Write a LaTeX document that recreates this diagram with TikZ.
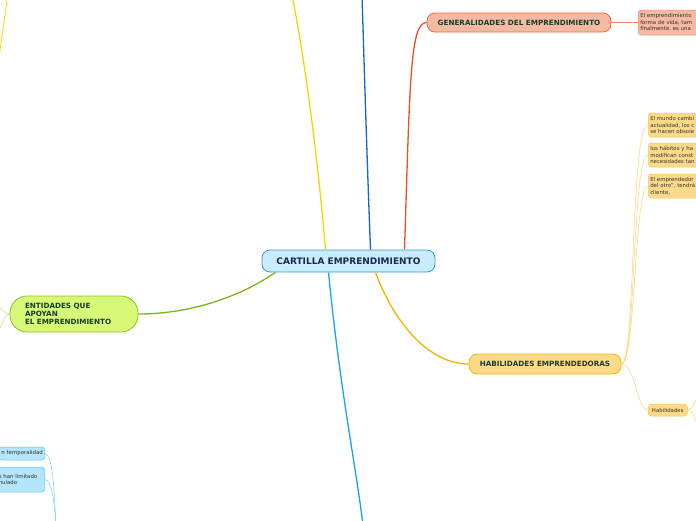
\documentclass[tikz,border=0pt]{standalone}
\usepackage{fontspec}
\setmainfont{DejaVu Sans}
\usetikzlibrary{positioning}
\definecolor{cenfill}{HTML}{C8ECFB}
\definecolor{cendraw}{HTML}{3399CC}
\definecolor{genfill}{HTML}{F8B9A3}
\definecolor{gendraw}{HTML}{EE6A44}
\definecolor{gensub}{HTML}{F08A6A}
\definecolor{habfill}{HTML}{FDD98A}
\definecolor{habdraw}{HTML}{F7B500}
\definecolor{habsubdraw}{HTML}{F9C84A}
\definecolor{habsubline}{HTML}{FAD26E}
\definecolor{entfill}{HTML}{D8F878}
\definecolor{entdraw}{HTML}{8DC21F}
\definecolor{entsub}{HTML}{BEE178}
\definecolor{bluefill}{HTML}{B3E5FC}
\definecolor{bluedraw}{HTML}{5AC8F5}
\definecolor{bluesub}{HTML}{78CDF5}
\definecolor{headtxt}{HTML}{163D2C}
\definecolor{centxt}{HTML}{1A2A4A}
\definecolor{smalltxt}{HTML}{333333}
\definecolor{lyellow}{HTML}{EED900}
\definecolor{lblue}{HTML}{1565D0}
\definecolor{lred}{HTML}{E8502A}
\definecolor{lorange}{HTML}{F5B400}
\definecolor{lgreen}{HTML}{7DB51A}
\definecolor{lcyan}{HTML}{12A8E8}
\tikzset{
  topic/.style={rounded corners=8pt, line width=0.8pt, font=\fontsize{7.2}{8.3}\selectfont\bfseries, inner sep=2pt, align=center},
  smallbox/.style={rounded corners=3pt, line width=0.5pt, font=\fontsize{5.4}{6.5}\selectfont, text=smalltxt, align=left, inner sep=2pt, anchor=west},
  mainline/.style={line width=1.3pt},
  subline/.style={line width=0.5pt}
}
\begin{document}
\begin{tikzpicture}[x=1pt,y=-1pt]
\useasboundingbox (0,0) rectangle (696,520);
\clip (0,0) rectangle (696,520);
% coordinates for off-canvas ends
\coordinate (yTop) at (292,-5);
\coordinate (bTop) at (362,-5);
\coordinate (cBot) at (363,525);
\coordinate (yLeftA) at (7.5,-3);
\coordinate (yLeftB) at (-1,58);
\coordinate (eA) at (-3,306);
\coordinate (eB) at (-3,334);
\coordinate (bA) at (56,525);
\coordinate (hA) at (700,394);
\coordinate (hB) at (700,428);

% nodes
\node[topic, fill=cenfill, draw=cendraw, text=centxt, minimum width=173pt, minimum height=22pt, font=\fontsize{9}{10}\selectfont\bfseries] (central) at (348.5,261) {CARTILLA EMPRENDIMIENTO};
\node[topic, fill=genfill, draw=gendraw, text=headtxt, minimum width=184pt, minimum height=19pt] (gen) at (519,22.5) {GENERALIDADES DEL EMPRENDIMIENTO};
\node[smallbox, fill=genfill, draw=gensub, text width=80pt, minimum height=25pt] (genTxt) at (638,22.5) {El emprendimiento\\forma de vida, tam\\finalmente, es una};
\node[topic, fill=habfill, draw=habdraw, text=headtxt, minimum width=152pt, minimum height=20pt] (hab) at (545,364) {HABILIDADES EMPRENDEDORAS};
\node[smallbox, fill=habfill, draw=habsubdraw, text width=70pt, minimum height=24pt] (y1) at (648,125) {El mundo cambi\\actualidad, los c\\se hacen obsole};
\node[smallbox, fill=habfill, draw=habsubdraw, text width=70pt, minimum height=24pt] (y2) at (648,155) {los hábitos y ha\\modifican const\\necesidades tan};
\node[smallbox, fill=habfill, draw=habsubdraw, text width=70pt, minimum height=24pt] (y3) at (648,186) {El emprendedor\\del otro'', tendrá\\cliente,};
\node[smallbox, fill=habfill, draw=habsubdraw, minimum width=39pt, minimum height=12pt, inner xsep=1.5pt, align=center] (habS) at (648,410) {Habilidades};
\node[topic, rounded corners=17pt, fill=entfill, draw=entdraw, text=headtxt, minimum width=128pt, minimum height=36pt, align=left, inner xsep=15pt, text width=98pt] (ent) at (74,314) {ENTIDADES QUE\\APOYAN\\EL EMPRENDIMIENTO};
\node[smallbox, anchor=east, fill=bluefill, draw=bluedraw, minimum height=13pt, text width=42pt, align=right] (b1) at (45,453.5) {n temporalidad};
\node[smallbox, anchor=east, fill=bluefill, draw=bluedraw, minimum height=25pt, text width=44pt, align=left] (b2) at (45,479.5) {s han limitado\\nulado};

% main connectors
\draw[mainline, lyellow] ([xshift=-23pt]central.north) .. controls (318,160) and (305,60) .. (yTop);
\draw[mainline, lblue] ([xshift=22pt]central.north) .. controls (367,160) and (364,60) .. (bTop);
\draw[mainline, lred] ([xshift=56pt]central.north) .. controls (410,80) and (410,22.5) .. (gen.west);
\draw[mainline, lorange] ([xshift=27pt]central.south) .. controls (395,325) and (430,364) .. (hab.west);
\draw[mainline, lgreen] ([xshift=-73pt]central.south) .. controls (235,300) and (185,314) .. (ent.east);
\draw[mainline, lcyan] ([xshift=-20pt]central.south) .. controls (340,390) and (355,460) .. (cBot);
\draw[subline, lyellow, line width=0.8pt] (yLeftA) -- (yLeftB);

% sub connectors
\draw[subline, gensub] (gen.east) -- (genTxt.west);
\draw[subline, habsubline] (hab.east) .. controls (636,364) and (630,125) .. (y1.west);
\draw[subline, habsubline] (hab.east) .. controls (636,364) and (632,155) .. (y2.west);
\draw[subline, habsubline] (hab.east) .. controls (636,364) and (634,186) .. (y3.west);
\draw[subline, habsubline] (hab.east) .. controls (636,364) and (636,410) .. (habS.west);
\draw[subline, habsubline] (habS.east) .. controls (694,410) and (694,400) .. (hA);
\draw[subline, habsubline] (habS.east) .. controls (694,410) and (694,420) .. (hB);
\draw[subline, entsub] (ent.west) .. controls (4,314) and (2,309) .. (eA);
\draw[subline, entsub] (ent.west) .. controls (4,314) and (2,326) .. (eB);
\draw[subline, bluesub] (b1.east) .. controls (53,455) and (54,490) .. (bA);
\draw[subline, bluesub] (b2.east) .. controls (52,481) and (54,500) .. (bA);
\end{tikzpicture}
\end{document}
